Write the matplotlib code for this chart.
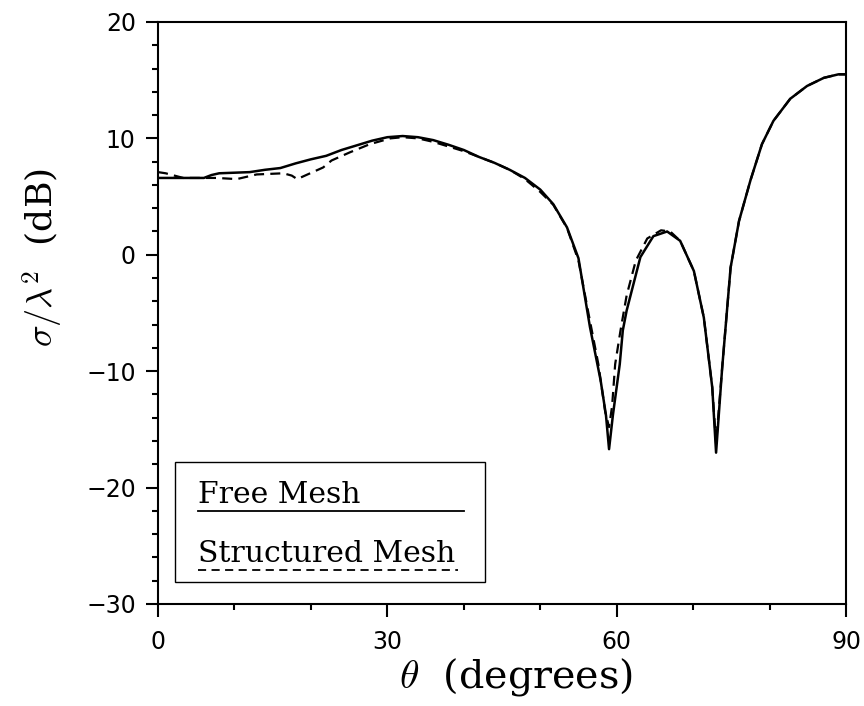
import numpy as np
import matplotlib
matplotlib.use("Agg")
import matplotlib.pyplot as plt
from matplotlib.ticker import MultipleLocator
from matplotlib.patches import Rectangle

plt.rcParams['mathtext.fontset'] = 'cm'

# Free Mesh (solid)
theta_free = [0, 2, 4, 6, 7, 8, 10, 12, 14, 16, 18, 20, 22, 24, 26, 28, 30, 32, 34,
              36, 38, 40, 42, 44, 46, 48, 50, 51.7, 53.5, 55.0, 56.5, 57.9, 58.6,
              59.0, 59.5, 60.4, 60.8, 61.3, 63.1, 64.8, 66.6, 68.3, 70.1, 71.4,
              72.5, 73.0, 73.8, 74.9, 76.0, 77.5, 79.0, 80.5, 82.7, 84.9, 87.1,
              89.0, 90]
db_free = [6.6, 6.6, 6.6, 6.6, 6.85, 7.0, 7.05, 7.1, 7.3, 7.45, 7.85, 8.2, 8.5, 9.0,
           9.4, 9.8, 10.1, 10.2, 10.1, 9.85, 9.45, 9.0, 8.4, 7.9, 7.3, 6.6, 5.6,
           4.35, 2.35, -0.3, -6.2, -10.8, -13.8, -16.7, -13.8, -9.4, -6.5, -4.8,
           -0.2, 1.6, 2.0, 1.2, -1.4, -5.4, -11.4, -17.0, -9.7, -1.1, 2.9, 6.4,
           9.5, 11.5, 13.4, 14.5, 15.2, 15.5, 15.5]

# Structured Mesh (dashed)
theta_struct = [0, 1, 3.3, 7.7, 10.3, 12.9, 16.4, 17.5, 18.2, 19.9, 21.6, 22.7, 25.1,
                27.7, 30.4, 32, 34, 36, 38, 40, 42, 44, 46, 48, 50, 51.7, 53.5,
                55.0, 56.3, 57.6, 58.5, 59.0, 59.4, 59.8, 60.5, 61.3, 62.5, 64.0,
                65.8, 67.0, 68.3, 70.1, 71.4, 72.5, 73.0, 73.8, 74.9, 76.0, 77.5,
                79.0, 80.5, 82.7, 84.9, 87.1, 89.0, 90]
db_struct = [7.1, 7.0, 6.6, 6.6, 6.5, 6.9, 7.0, 6.8, 6.5, 7.0, 7.5, 8.1, 8.8, 9.5,
             10.0, 10.1, 10.0, 9.7, 9.3, 8.9, 8.4, 7.9, 7.3, 6.5, 5.4, 4.3, 2.3,
             -0.5, -5.0, -9.4, -13.5, -14.8, -13.0, -9.4, -6.5, -3.5, -0.5, 1.4,
             2.1, 2.0, 1.2, -1.4, -5.4, -11.4, -16.2, -9.7, -1.1, 2.9, 6.4, 9.5,
             11.5, 13.4, 14.5, 15.2, 15.5, 15.5]

fig = plt.figure(figsize=(8.64, 7.06), dpi=100)
ax = fig.add_axes([0.1829, 0.1445, 0.7963, 0.8244])

ax.plot(theta_free, db_free, color='black', lw=1.8, solid_joinstyle='round')
ax.plot(theta_struct, db_struct, color='black', lw=1.6, dashes=(4.5, 2.8))

ax.set_xlim(0, 90)
ax.set_ylim(-30, 20)
ax.xaxis.set_major_locator(MultipleLocator(30))
ax.xaxis.set_minor_locator(MultipleLocator(10))
ax.set_yticks([-30, -20, -10, 0, 10, 20])
ax.set_yticklabels(['\u221230', '\u221220', '\u221210', '0', '10', '20'])
ax.yaxis.set_minor_locator(MultipleLocator(2))

for s in ax.spines.values():
    s.set_linewidth(1.5)
ax.tick_params(which='both', direction='out', width=1.5, top=False, right=False)
ax.tick_params(which='major', length=9, labelsize=17)
ax.tick_params(which='minor', length=4.5)
ax.tick_params(axis='x', which='major', pad=10)
ax.tick_params(axis='y', which='major', pad=7)
for lab in ax.get_xticklabels() + ax.get_yticklabels():
    lab.set_family('DejaVu Sans')

ax.set_xlabel(r'$\theta$  (degrees)', family='DejaVu Serif', fontsize=28.5)
ax.xaxis.set_label_coords(0.52, -0.09)
ax.set_ylabel(r'$\sigma/\lambda^2$  (dB)', family='DejaVu Serif', fontsize=26)
ax.yaxis.set_label_coords(-0.135, 0.596)

# legend box drawn by hand
ax.add_patch(Rectangle((0.0247, 0.0383), 0.4503, 0.2062, transform=ax.transAxes,
                       fill=False, lw=1.0, ec='black', zorder=5))
ax.text(0.058, 0.1735, 'Free Mesh', transform=ax.transAxes, family='DejaVu Serif',
        fontsize=21.5, va='baseline')
ax.plot([0.058, 0.445], [0.160, 0.160], transform=ax.transAxes, color='black', lw=1.3)
ax.text(0.058, 0.0727, 'Structured Mesh', transform=ax.transAxes,
        family='DejaVu Serif', fontsize=21.5, va='baseline')
ax.plot([0.058, 0.436], [0.058, 0.058], transform=ax.transAxes, color='black',
        lw=1.3, dashes=(4.5, 3))

fig.savefig('out.png', dpi=100)
